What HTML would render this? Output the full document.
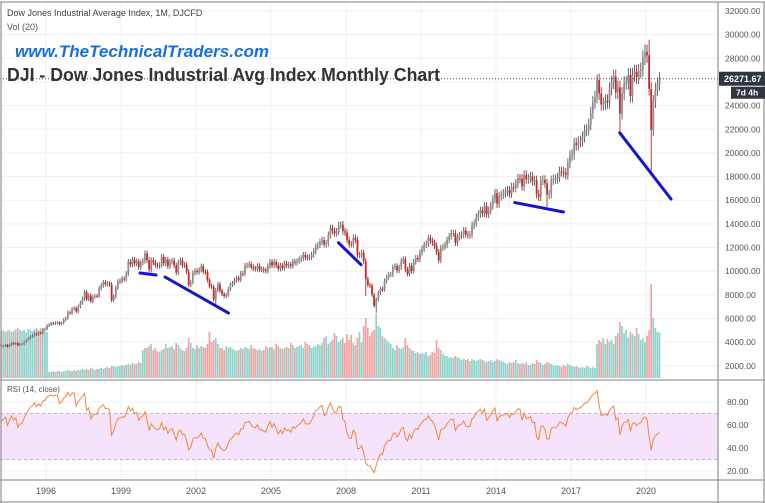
<!DOCTYPE html>
<html><head><meta charset="utf-8"><style>
html,body{margin:0;padding:0;background:#fff;}
svg{display:block;font-family:"Liberation Sans",sans-serif;}
</style></head><body>
<svg id="chart" width="765" height="503" viewBox="0 0 765 503" xmlns="http://www.w3.org/2000/svg">
<rect x="0" y="0" width="765" height="503" fill="#fff"/>
<g id="grid"></g>
<g id="rsiband"></g>
<g id="vol"></g>
<g id="candles"></g>
<g id="trend"></g>
<g id="rsi"></g>
<g id="axes"></g>
<text x="7" y="16" font-size="9" fill="#444">Dow Jones Industrial Average Index, 1M, DJCFD</text>
<text x="7" y="30" font-size="9" fill="#555">Vol (20)</text>
<text x="15" y="57" font-size="17" font-weight="bold" font-style="italic" fill="#1a6fe0" textLength="254" lengthAdjust="spacingAndGlyphs">www.TheTechnicalTraders.com</text>
<text x="7" y="81" font-size="18" font-weight="bold" fill="#333" textLength="433" lengthAdjust="spacingAndGlyphs">DJI - Dow Jones Industrial Avg Index Monthly Chart</text>
<text x="7" y="392" font-size="8" fill="#555">RSI (14, close)</text>
</svg>
<script>
const startYear = 1993;
const closes = [
3310,3370,3435,3428,3527,3516,3540,3651,3555,3681,3684,3754,
3978,3832,3636,3682,3758,3625,3765,3913,3843,3908,3739,3834,
3843,4011,4157,4321,4465,4556,4708,4647,4789,4755,5074,5117,
5395,5485,5587,5569,5643,5654,5529,5616,5882,6029,6521,6448,
6813,6877,6583,7009,7331,7673,8223,7622,7945,7442,7823,7908,
7907,8546,8800,9063,8900,8952,8883,7539,7843,8592,9117,9181,
9359,9307,9786,10789,10560,10971,10655,10829,10337,10730,10878,11497,
10941,10128,10922,10734,10522,10448,10522,11215,10651,10971,10415,10787,
10887,10495,9879,10735,10912,10502,10523,9950,8848,9075,9852,10022,
9920,10106,10404,9946,9925,9243,8737,8664,7592,8397,8896,8342,
8054,7891,7992,8480,8850,8985,9234,9416,9275,9801,9782,10454,
10488,10584,10358,10226,10188,10435,10140,10174,10080,10027,10428,10783,
10490,10766,10504,10193,10467,10275,10641,10482,10569,10440,10806,10718,
10865,10993,11109,11367,11168,11150,11186,11381,11679,12081,12221,12463,
12622,12269,12354,13063,13628,13409,13212,13358,13896,13930,13372,13265,
12650,12266,12263,12820,12638,11350,11378,11544,10851,9325,8829,8776,
8001,7063,7609,8168,8500,8447,9172,9496,9712,9713,10345,10428,
10067,10325,10857,11009,10137,9774,10466,10015,10788,11118,11006,11578,
11892,12226,12320,12811,12570,12414,12143,11614,10913,11955,12046,12218,
12633,12952,13212,13214,12393,12880,13009,13091,13437,13096,13026,13104,
13861,14054,14579,14840,15116,14910,15500,14810,15130,15546,16086,16577,
15699,16322,16458,16581,16717,16827,16563,17098,17043,17391,17828,17823,
17165,18133,17776,17841,18011,17620,17690,16528,16285,17664,17720,17425,
16466,16517,17685,17774,17787,17930,18432,18401,18308,18142,19124,19763,
19864,20812,20663,20941,21009,21350,21891,21948,22405,23377,24272,24719,
26149,25029,24103,24163,24416,24271,25415,25965,26458,25116,25538,23327,
25000,25916,25929,26593,24815,26600,26864,26403,26917,27046,28051,28538,
28256,25409,21917,24346,25383,25813,26272];
const lowOverrides = {"2008-9":7882,"2009-2":6470,"2020-2":18214,"2018-11":21713,"2002-9":7197,"2016-0":15450};
const highOverrides = {"2020-1":29568,"2018-0":26617,"2007-9":14198};
const volStartYear = 1994;
const volumes = [
46,45,47,48,46,47,48,46,47,49,50,48,
47,48,46,49,48,47,49,50,48,50,49,47,
46,6,6,7,6,7,7,6,7,7,8,7,
7,8,7,8,8,9,8,9,8,10,9,8,
9,9,10,9,10,11,10,12,12,11,12,12,
13,12,13,14,13,15,14,14,16,15,28,30,
30,32,34,28,30,27,26,28,29,34,30,31,
32,29,35,33,30,28,27,30,40,35,30,29,
33,30,32,31,30,34,46,36,38,40,34,30,
30,28,32,30,31,29,28,27,28,30,29,31,
30,29,33,30,29,28,29,27,28,32,30,31,
31,29,34,32,30,29,30,31,30,35,33,30,
31,32,33,30,36,34,33,30,31,32,34,33,
35,40,42,34,36,38,45,42,36,38,40,35,
44,38,43,35,33,40,46,36,52,60,50,42,
46,48,64,52,50,42,40,38,36,34,30,28,
33,30,29,31,40,33,30,28,27,25,26,24,
25,24,26,22,23,26,25,38,30,28,24,22,
22,20,21,20,22,21,20,18,19,18,19,17,
19,18,17,18,19,18,17,16,17,18,16,17,
19,18,17,16,15,14,16,15,16,18,15,14,
15,14,16,13,13,15,14,18,16,15,13,14,
16,15,14,13,12,13,12,11,13,12,14,13,
12,11,12,11,10,11,10,12,11,10,11,10,
34,38,36,40,34,39,36,38,34,42,45,56,
52,45,48,40,46,44,42,50,44,38,40,36,
42,48,94,60,50,46,45];
const priceTicks = [32000,30000,28000,26000,24000,22000,20000,18000,16000,14000,12000,10000,8000,6000,4000,2000];
const priceTickLabels = ["32000.00","30000.00","28000.00","","24000.00","22000.00","20000.00","18000.00","16000.00","14000.00","12000.00","10000.00","8000.00","6000.00","4000.00","2000.00"];
const rsiTicks = [80,60,40,20];
const yearTicks = [1996,1999,2002,2005,2008,2011,2014,2017,2020];
const lastPrice = 26271.67;
// trendlines: [t1, p1, t2, p2]
const trendT1 = [1999.76, 2000.76, 2007.7, 2014.75, 2018.95];
const trendP1 = [9843, 9505, 12400, 15800, 21700];
const trendT2 = [2000.4, 2003.3, 2008.6, 2016.7, 2021.0];
const trendP2 = [9674, 6460, 10550, 15000, 16100];

const NS="http://www.w3.org/2000/svg";
const X = t => 46 + (t-1996)*25;
const Y = v => 11 + (32000-v)*0.011825;
const RY = v => 402 + (80-v)*1.15;
const VY = v => 378 - v;
function mk(tag, attrs, parent){const e=document.createElementNS(NS,tag);for(const k in attrs)e.setAttribute(k,attrs[k]);parent.appendChild(e);return e;}
const g=id=>document.getElementById(id);
const CL=0, CR=718;

const grid=g('grid');
priceTicks.forEach(v=>{const l=mk('line',{x1:CL,x2:CR,y1:Y(v),y2:Y(v),stroke:'#eef0f3','stroke-width':1},grid);

});
yearTicks.forEach(yr=>{const l=mk('line',{x1:X(yr),x2:X(yr),y1:3,y2:480,stroke:'#eef0f3','stroke-width':1},grid);

});
rsiTicks.forEach(v=>{const l=mk('line',{x1:CL,x2:CR,y1:RY(v),y2:RY(v),stroke:'#eef0f3'},grid);

});

const band=g('rsiband');
const br=mk('rect',{x:CL,y:RY(70),width:CR-CL,height:RY(30)-RY(70),fill:'#f4e3fb'},band);


[70,30].forEach(v=>{const l=mk('line',{x1:CL,x2:CR,y1:RY(v),y2:RY(v),stroke:'#c9a6d8','stroke-dasharray':'3,3'},band);

});

const cg=g('candles'), vg=g('vol');
const bw=1.8;
for(let i=1;i<closes.length;i++){
  const yr=startYear+Math.floor(i/12), mo=i%12, t=yr+mo/12+1/24;
  if(yr<1994) continue;
  const o=closes[i-1], c=closes[i];
  const key=yr+'-'+mo;
  const hi=highOverrides[key]||Math.max(o,c)*1.022, lo=lowOverrides[key]||Math.min(o,c)*0.978;
  const up=c>=o, x=X(t);
  const w=mk('line',{x1:x,x2:x,y1:Y(hi),y2:Y(lo),stroke:up?'#444':'#8b1a1a','stroke-width':0.8},cg);
  
  
  const b=mk('rect',{x:x-bw/2,y:Y(Math.max(o,c)),width:bw,height:Math.max(0.8,Math.abs(Y(o)-Y(c))),fill:up?'#8e8e8e':'#c62828'},cg);
  
  
  const vi=(yr-volStartYear)*12+mo;
  if(vi>=0 && vi<volumes.length){
    const vb=mk('rect',{x:x-0.9,y:VY(volumes[vi]),width:1.7,height:volumes[vi],fill:up?'#8fd3cc':'#f0a4a4'},vg);
    
    
  }
}

const tg=g('trend');
trendT1.forEach((t,i)=>{const l=mk('line',{x1:X(trendT1[i]),y1:Y(trendP1[i]),x2:X(trendT2[i]),y2:Y(trendP2[i]),stroke:'#1515d0','stroke-width':3,'stroke-linecap':'round'},tg);

});

const rsiVals=[];let ag=0,al=0;
for(let i=1;i<closes.length;i++){const d=closes[i]-closes[i-1];const gn=Math.max(d,0),ls=Math.max(-d,0);
 if(i<=14){ag+=gn/14;al+=ls/14;}else{ag=(ag*13+gn)/14;al=(al*13+ls)/14;}
 rsiVals[i]=al===0?100:100-100/(1+ag/al);}
let pts=[];
for(let i=14;i<closes.length;i++){const yr=startYear+Math.floor(i/12),mo=i%12;if(yr<1994)continue;pts.push(X(yr+mo/12+1/24).toFixed(1)+','+RY(rsiVals[i]).toFixed(1));}
const rl=mk('polyline',{points:pts.join(' '),fill:'none',stroke:'#f0883e','stroke-width':1},g('rsi'));



const ax=g('axes');
const dl=mk('line',{x1:CL,x2:CR,y1:Y(lastPrice),y2:Y(lastPrice),stroke:'#444','stroke-dasharray':'1,2','stroke-width':1},ax);


[[0,2,765,2],[1,2,1,503],[CR,2,CR,503],[0,380,765,380],[0,480,765,480],[764,2,764,503],[0,502,765,502]].forEach(a=>{const l=mk('line',{x1:a[0],y1:a[1],x2:a[2],y2:a[3],stroke:'#9a9a9a','stroke-width':1.3},ax);

});
priceTicks.forEach((v,i)=>{if(!priceTickLabels[i])return;const tx=mk('text',{x:725,y:Y(v)+3,'font-size':8.5,fill:'#555'},ax);tx.textContent=priceTickLabels[i];

});
rsiTicks.forEach(v=>{const tx=mk('text',{x:727,y:RY(v)+3,'font-size':8.5,fill:'#555'},ax);tx.textContent=v.toFixed(2);

});
yearTicks.forEach(yr=>{const tx=mk('text',{x:X(yr),y:494,'font-size':9,fill:'#555','text-anchor':'middle'},ax);tx.textContent=yr;

});
const pb=mk('rect',{x:719,y:Y(lastPrice)-7,width:46,height:14,fill:'#2f3640'},ax);


const pt=mk('text',{x:724,y:Y(lastPrice)+3.5,'font-size':9,fill:'#fff','font-weight':'bold'},ax);pt.textContent=lastPrice.toFixed(2);


const cb=mk('rect',{x:731,y:Y(lastPrice)+8,width:34,height:12,fill:'#2f3640'},ax);


const ct=mk('text',{x:736,y:Y(lastPrice)+17,'font-size':8.5,fill:'#fff','font-weight':'bold'},ax);ct.textContent='7d 4h';


</script>
</body></html>
